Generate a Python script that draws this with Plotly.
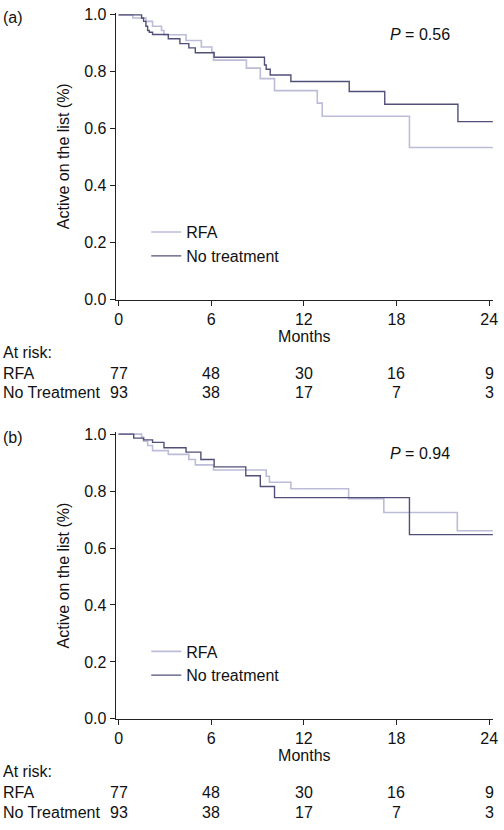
import plotly.graph_objects as go

# ---- data ----
a_rfa_t = [0, 0.92, 1.77, 2.2, 2.78, 2.94, 4.37, 5.36, 6.04, 6.15, 8.28, 9.18, 10.1, 12.87, 13.19, 18.84, 24.24]
a_rfa_s = [1.0, 0.989, 0.977, 0.960, 0.945, 0.930, 0.910, 0.887, 0.870, 0.841, 0.813, 0.776, 0.734, 0.690, 0.644, 0.534, 0.534]
a_no_t = [0, 1.49, 1.62, 1.77, 1.88, 1.99, 2.2, 3.22, 3.97, 4.55, 4.97, 6.19, 9.45, 9.56, 9.82, 11.16, 14.94, 17.24, 21.98, 24.24]
a_no_s = [1.0, 0.989, 0.977, 0.960, 0.945, 0.939, 0.931, 0.916, 0.899, 0.884, 0.867, 0.851, 0.824, 0.809, 0.789, 0.766, 0.731, 0.686, 0.625, 0.625]

b_rfa_t = [0, 1.49, 1.62, 1.88, 2.2, 3.22, 4.55, 4.97, 6.15, 9.56, 9.77, 11.16, 14.9, 17.18, 21.94, 24.24]
b_rfa_s = [1.0, 0.989, 0.975, 0.960, 0.942, 0.929, 0.911, 0.892, 0.874, 0.852, 0.831, 0.808, 0.773, 0.725, 0.661, 0.661]
b_no_t = [0, 0.98, 1.62, 2.2, 2.94, 4.37, 5.33, 6.19, 8.24, 9.18, 10.1, 18.84, 24.24]
b_no_s = [1.0, 0.986, 0.980, 0.971, 0.952, 0.937, 0.911, 0.885, 0.854, 0.816, 0.777, 0.647, 0.647]

risk_months = [0, 6, 12, 18, 24]
risk_rfa = [77, 48, 30, 16, 9]
risk_no = [93, 38, 17, 7, 3]
p_values = ["0.56", "0.94"]
panel_labels = ["(a)", "(b)"]

LIGHT = "#bcbcd8"
DARK = "#514f78"
FONT = "Liberation Sans, Arial, sans-serif"
FS = 16
W, H = 504, 830

fig = go.Figure()
panels = [
    (a_rfa_t, a_rfa_s, a_no_t, a_no_s, "x", "y", "legend"),
    (b_rfa_t, b_rfa_s, b_no_t, b_no_s, "x2", "y2", "legend2"),
]
for rt, rs, nt, ns, xa, ya, lg in panels:
    fig.add_trace(go.Scatter(x=rt, y=rs, mode="lines", line=dict(color=LIGHT, width=1.6, shape="hv"),
                             name="RFA", xaxis=xa, yaxis=ya, legend=lg))
    fig.add_trace(go.Scatter(x=nt, y=ns, mode="lines", line=dict(color=DARK, width=1.4, shape="hv"),
                             name="No treatment", xaxis=xa, yaxis=ya, legend=lg))

xdom = [116 / W, 498 / W]
xrange = [(116 - 119) / 15.625, (498 - 119) / 15.625]
ydom_a = [1 - 299 / H, 1 - 7 / H]
ydom_b = [1 - 726 / H, 1 - 434 / H]
yrange = [0, 1.007]

axis_common = dict(showline=True, linecolor="#222", linewidth=1, ticks="outside", ticklen=5,
                   tickcolor="#222", showgrid=False, zeroline=False,
                   tickfont=dict(family=FONT, size=FS, color="#111"))
xcommon = dict(axis_common, range=xrange, domain=xdom, tickvals=risk_months,
               title=dict(text="Months", font=dict(family=FONT, size=FS, color="#111"), standoff=2))
ycommon = dict(axis_common, range=yrange, tickvals=[0, 0.2, 0.4, 0.6, 0.8, 1.0], tickformat=".1f",
               title=dict(text="Active on the list (%)", font=dict(family=FONT, size=FS, color="#111"), standoff=10))

fig.update_layout(
    width=W, height=H,
    margin=dict(l=0, r=0, t=0, b=0),
    paper_bgcolor="white", plot_bgcolor="white",
    font=dict(family=FONT, size=FS, color="#111"),
    xaxis=dict(xcommon, anchor="y"),
    yaxis=dict(ycommon, domain=ydom_a, anchor="x"),
    xaxis2=dict(xcommon, anchor="y2"),
    yaxis2=dict(ycommon, domain=ydom_b, anchor="x2"),
    legend=dict(x=147 / W, y=1 - 213 / H, xanchor="left", yanchor="top", bgcolor="rgba(0,0,0,0)",
                font=dict(family=FONT, size=FS, color="#111"), tracegroupgap=0),
    legend2=dict(x=147 / W, y=1 - 640 / H, xanchor="left", yanchor="top", bgcolor="rgba(0,0,0,0)",
                 font=dict(family=FONT, size=FS, color="#111"), tracegroupgap=0),
    showlegend=True,
)

annotations = []
for i, (xr, yr, top, axis_y) in enumerate([("x", "y", 0, 299), ("x2", "y2", 427, 726)]):
    annotations.append(dict(text=panel_labels[i], xref="paper", yref="paper", x=0, y=1 - (top + 12) / H,
                            xanchor="left", yanchor="middle", showarrow=False))
    annotations.append(dict(text="<i>P</i> = " + p_values[i], xref="paper", yref="paper",
                            x=392 / W, y=1 - (top + 29) / H, xanchor="left", yanchor="middle", showarrow=False))
    annotations.append(dict(text="At risk:", xref="paper", yref="paper", x=0, y=1 - (axis_y + 54) / H,
                            xanchor="left", yanchor="middle", showarrow=False))
    annotations.append(dict(text="RFA", xref="paper", yref="paper", x=0, y=1 - (axis_y + 75) / H,
                            xanchor="left", yanchor="middle", showarrow=False))
    annotations.append(dict(text="No Treatment", xref="paper", yref="paper", x=0, y=1 - (axis_y + 95) / H,
                            xanchor="left", yanchor="middle", showarrow=False))
    for m, r1, r2 in zip(risk_months, risk_rfa, risk_no):
        annotations.append(dict(text=str(r1), xref=xr, yref="paper", x=m, y=1 - (axis_y + 75) / H,
                                xanchor="center", yanchor="middle", showarrow=False))
        annotations.append(dict(text=str(r2), xref=xr, yref="paper", x=m, y=1 - (axis_y + 95) / H,
                                xanchor="center", yanchor="middle", showarrow=False))
fig.update_layout(annotations=annotations)

fig.write_html("out.html", config={"displayModeBar": False},
               post_script="document.body.style.margin='0';document.body.style.padding='0';")
